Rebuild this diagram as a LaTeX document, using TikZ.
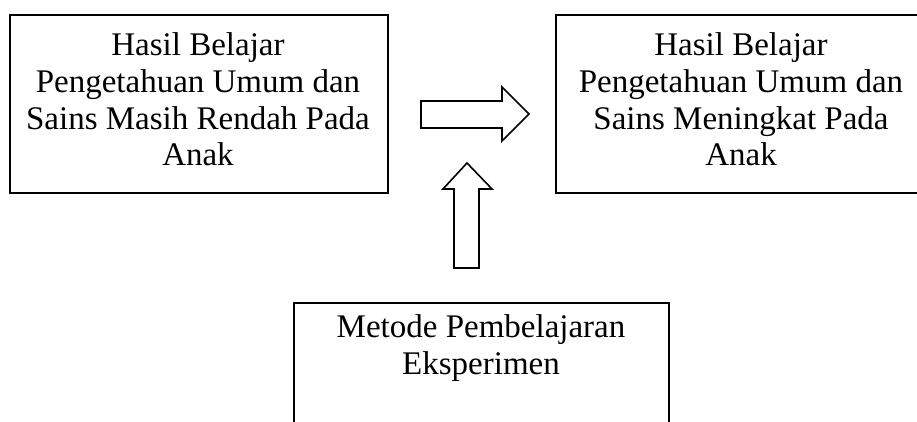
\documentclass[tikz,border=0pt]{standalone}
\usepackage{fontspec}
\setmainfont{Liberation Serif}
\begin{document}
\begin{tikzpicture}[x=1pt,y=-1pt,
  box/.style={draw,line width=1.7pt,inner sep=0pt,anchor=north west},
  txt/.style={align=center,inner sep=0pt,anchor=north,font=\fontsize{33}{36.7}\selectfont},
  blockarrow/.style={draw,line width=1.6pt,line join=miter}]
\useasboundingbox (0,0) rectangle (917,421);
% boxes
\node[box,minimum width=378pt,minimum height=178pt] (left) at (9,14) {};
\node[box,minimum width=372pt,minimum height=178pt] (right) at (555,14) {};
\node[box,minimum width=375pt,minimum height=150pt] (bottom) at (293,302) {};
% texts
\node[txt] (lefttext) at (198,32.5) {Hasil Belajar\\Pengetahuan Umum dan\\Sains Masih Rendah Pada\\Anak};
\node[txt] (righttext) at (741,32.5) {Hasil Belajar\\Pengetahuan Umum dan\\Sains Meningkat Pada\\Anak};
\node[txt] (bottomtext) at (481,314.5) {Metode Pembelajaran\\Eksperimen};
% block arrows
\draw[blockarrow] (421,101) -- (502,101) -- (502,87) -- (529,114) -- (502,141) -- (502,128) -- (421,128) -- cycle;
\draw[blockarrow] (454,268) -- (454,189) -- (443,189) -- (467,163) -- (492,189) -- (479,189) -- (479,268) -- cycle;
\end{tikzpicture}
\end{document}
